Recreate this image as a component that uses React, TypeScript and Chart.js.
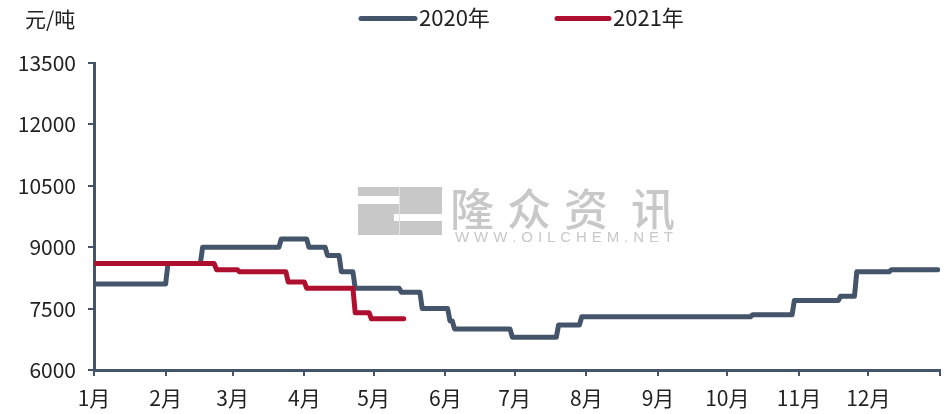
import React, { useEffect, useRef } from "react";
import { Chart, registerables } from "chart.js";

Chart.register(...registerables);

// Month tick positions (day of year) and labels
const monthStartDays = [0, 31, 60, 91, 121, 152, 182, 213, 244, 274, 305, 335, 366];
const monthLabels = ["1月", "2月", "3月", "4月", "5月", "6月", "7月", "8月", "9月", "10月", "11月", "12月", ""];

// Y axis
const yMin = 6000;
const yMax = 13500;
const yStep = 1500;

// 2020 series (day of year, 元/吨)
const days2020 = [0, 31, 32, 46, 47, 80, 81, 92, 93, 100, 101, 106, 107, 112, 113, 132, 133, 141, 142, 153, 154, 155, 156, 180, 181, 200, 201, 210, 211, 284, 285, 302, 303, 322, 323, 329, 330, 344, 345, 365];
const values2020 = [8100, 8100, 8600, 8600, 9000, 9000, 9200, 9200, 9000, 9000, 8800, 8800, 8400, 8400, 8000, 8000, 7900, 7900, 7500, 7500, 7200, 7200, 7000, 7000, 6800, 6800, 7100, 7100, 7300, 7300, 7350, 7350, 7700, 7700, 7800, 7800, 8400, 8400, 8450, 8450];

// 2021 series
const days2021 = [0, 52, 53, 62, 63, 83, 84, 91, 92, 112, 113, 119, 120, 134];
const values2021 = [8600, 8600, 8450, 8450, 8400, 8400, 8150, 8150, 8000, 8000, 7400, 7400, 7250, 7250];

const seriesNames = ["2020年", "2021年"];
const seriesColors = ["#44546A", "#AE0F2F"];
const unitLabel = "元/吨";
const watermarkCN = ["隆", "众", "资", "讯"];
const watermarkEN = "WWW.OILCHEM.NET";

const FONT = "'Noto Sans CJK SC', 'Liberation Sans', sans-serif";
const AXIS_COLOR = "#44546A";
const TEXT_COLOR = "#222";

const decorPlugin = {
  id: "decor",
  beforeDatasetsDraw(chart: any) {
    const ctx = chart.ctx;
    ctx.save();
    const g = "#c8c8c8";
    // logo block
    ctx.fillStyle = g;
    ctx.fillRect(358, 187, 84, 48);
    ctx.fillStyle = "#ffffff";
    ctx.fillRect(358, 196, 42, 8);
    ctx.fillRect(394, 214, 48, 7);
    ctx.fillStyle = "#e2e2e2";
    ctx.fillRect(399, 187, 1, 48);
    // chinese text
    ctx.fillStyle = g;
    ctx.font = `500 44px ${FONT}`;
    ctx.textAlign = "center";
    ctx.textBaseline = "middle";
    const centers = [472, 529, 586, 653];
    watermarkCN.forEach((c, i) => ctx.fillText(c, centers[i], 209));
    // english text
    ctx.font = `15px 'Liberation Sans', sans-serif`;
    ctx.textAlign = "left";
    const total = 218;
    const chars = watermarkEN.split("");
    const widths = chars.map((c) => ctx.measureText(c).width);
    const sum = widths.reduce((a, b) => a + b, 0);
    const gap = (total - sum) / (chars.length - 1);
    let x = 455;
    chars.forEach((c, i) => {
      ctx.fillText(c, x, 238);
      x += widths[i] + gap;
    });
    ctx.restore();
  },
  afterDraw(chart: any) {
    const ctx = chart.ctx;
    ctx.save();
    ctx.fillStyle = TEXT_COLOR;
    ctx.font = `21px ${FONT}`;
    ctx.textBaseline = "middle";
    ctx.textAlign = "left";
    ctx.fillText(unitLabel, 25, 19);
    // legend
    const items = [
      { x0: 361, x1: 415, tx: 419 },
      { x0: 557, x1: 609, tx: 613 },
    ];
    items.forEach((it, i) => {
      ctx.strokeStyle = seriesColors[i];
      ctx.lineWidth = 5;
      ctx.lineCap = "round";
      ctx.beginPath();
      ctx.moveTo(it.x0, 18.5);
      ctx.lineTo(it.x1, 18.5);
      ctx.stroke();
      ctx.fillStyle = TEXT_COLOR;
      ctx.font = `22px ${FONT}`;
      ctx.fillText(seriesNames[i], it.tx, 18);
    });
    ctx.restore();
  },
};

export default function App() {
  const canvasRef = useRef<HTMLCanvasElement | null>(null);

  useEffect(() => {
    if (!canvasRef.current) return;
    const toPoints = (xs: number[], ys: number[]) => xs.map((x, i) => ({ x, y: ys[i] }));
    const chart = new Chart(canvasRef.current, {
      type: "line",
      data: {
        datasets: [
          {
            label: seriesNames[0],
            data: toPoints(days2020, values2020),
            borderColor: seriesColors[0],
            backgroundColor: seriesColors[0],
            borderWidth: 5,
            pointRadius: 0,
            tension: 0,
            borderJoinStyle: "round",
            borderCapStyle: "round",
            order: 1,
          },
          {
            label: seriesNames[1],
            data: toPoints(days2021, values2021),
            borderColor: seriesColors[1],
            backgroundColor: seriesColors[1],
            borderWidth: 5,
            pointRadius: 0,
            tension: 0,
            borderJoinStyle: "round",
            borderCapStyle: "round",
            order: 0,
          },
        ],
      },
      options: {
        animation: false,
        responsive: true,
        maintainAspectRatio: false,
        layout: { padding: { top: 63, right: 10, left: 0, bottom: 0 } },
        plugins: {
          legend: { display: false },
          tooltip: { enabled: false },
        },
        scales: {
          x: {
            type: "linear",
            min: 0,
            max: 366,
            afterBuildTicks: (scale: any) => {
              scale.ticks = monthStartDays.map((v) => ({ value: v }));
            },
            afterFit: (scale: any) => {
              scale.height = 44;
            },
            ticks: {
              autoSkip: false,
              maxRotation: 0,
              minRotation: 0,
              padding: 9,
              color: TEXT_COLOR,
              font: { family: FONT, size: 21 },
              callback: (_v: any, i: number) => monthLabels[i],
            },
            grid: {
              drawOnChartArea: false,
              drawTicks: true,
              tickLength: 6,
              color: AXIS_COLOR,
              lineWidth: 2,
            },
            border: { color: AXIS_COLOR, width: 3 },
          },
          y: {
            type: "linear",
            min: yMin,
            max: yMax,
            afterFit: (scale: any) => {
              scale.width = 94;
            },
            ticks: {
              stepSize: yStep,
              padding: 12,
              color: TEXT_COLOR,
              font: { family: FONT, size: 21 },
              callback: (v: any) => String(v),
            },
            grid: {
              drawOnChartArea: false,
              drawTicks: true,
              tickLength: 6,
              color: AXIS_COLOR,
              lineWidth: 2,
            },
            border: { color: AXIS_COLOR, width: 3 },
          },
        },
      },
      plugins: [decorPlugin],
    } as any);
    return () => chart.destroy();
  }, []);

  return (
    <div style={{ position: "fixed", left: 0, top: 0, width: 950, height: 414, background: "#fff" }}>
      <canvas ref={canvasRef} />
    </div>
  );
}
